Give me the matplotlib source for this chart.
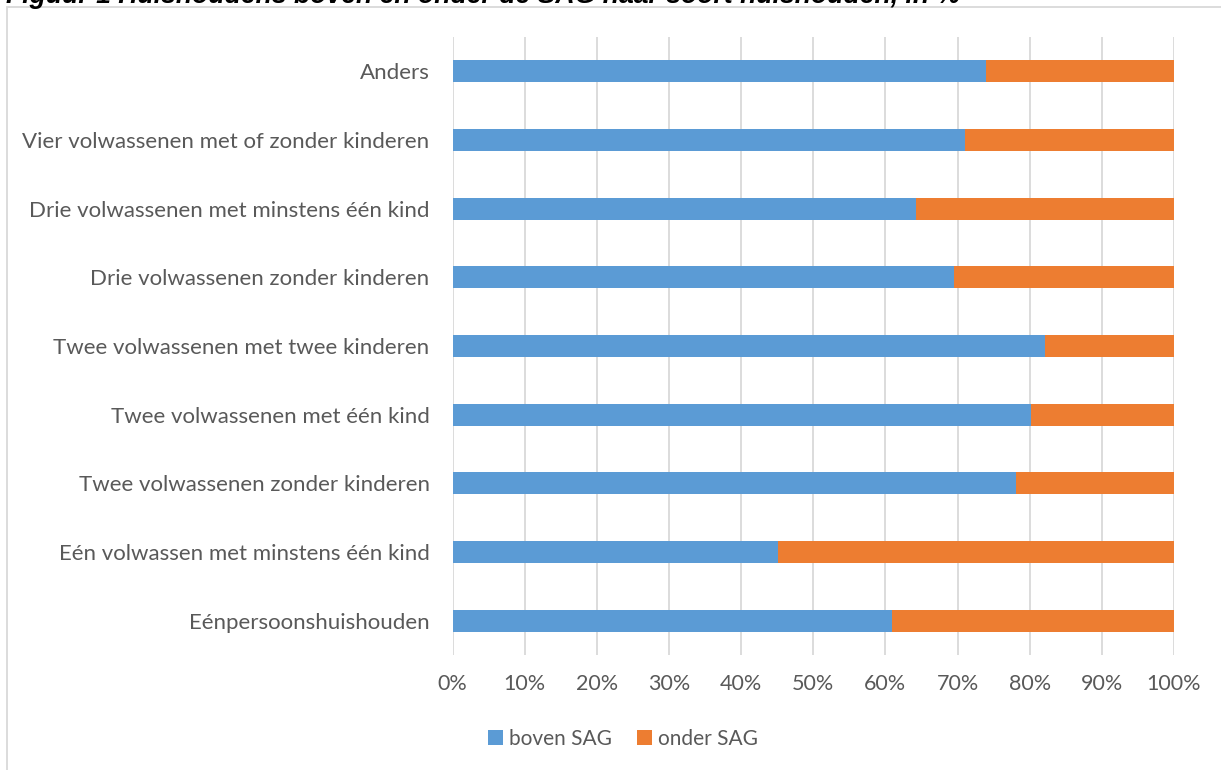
import matplotlib
matplotlib.use("Agg")
import matplotlib.pyplot as plt
from matplotlib.patches import Rectangle
from matplotlib.ticker import FixedLocator

categories = [
    "Eénpersoonshuishouden",
    "Eén volwassen met minstens één kind",
    "Twee volwassenen zonder kinderen",
    "Twee volwassenen met één kind",
    "Twee volwassenen met twee kinderen",
    "Drie volwassenen zonder kinderen",
    "Drie volwassenen met minstens één kind",
    "Vier volwassenen met of zonder kinderen",
    "Anders",
]
boven = [60.9, 45.1, 78.1, 80.2, 82.1, 69.5, 64.2, 71.0, 74.0]
onder = [100 - b for b in boven]
xticks = [0, 10, 20, 30, 40, 50, 60, 70, 80, 90, 100]
xticklabels = [f"{t}%" for t in xticks]
series_names = ["boven SAG", "onder SAG"]

BLUE = "#5B9BD5"
ORANGE = "#ED7D31"
GRID = "#D9D9D9"
TXT = "#595959"
FONT = "Lato"

W, H = 1221, 770
fig = plt.figure(figsize=(W / 100, H / 100), dpi=100)

# outer chart frame (extends beyond right/bottom edge)
fig.patches.append(Rectangle((7 / W, -0.05), 1.2, 1 - 7 / H + 0.05,
                             transform=fig.transFigure, fill=False,
                             edgecolor=GRID, linewidth=1.3))

# clipped title at the top
fig.text(6 / W, 1 - 3 / H, "Figuur 1 Huishoudens boven en onder de SAG naar soort huishouden, in %",
         ha="left", va="baseline", fontsize=19.2, fontweight="bold", fontstyle="italic",
         family="Liberation Sans", color="black")

left, right = 452.5 / W, 1174 / W
top, bottom = 37 / H, 655 / H
ax = fig.add_axes([left, 1 - bottom, right - left, bottom - top])

y = list(range(len(categories)))
h = 0.32
ax.barh(y, boven, height=h, color=BLUE, label=series_names[0], zorder=3)
ax.barh(y, onder, left=boven, height=h, color=ORANGE, label=series_names[1], zorder=3)

ax.set_xlim(0, 100)
ax.set_ylim(-0.5, len(categories) - 0.5)
ax.xaxis.set_major_locator(FixedLocator(xticks))
ax.set_xticklabels(xticklabels)
ax.set_yticks(y)
ax.set_yticklabels(categories)
ax.grid(axis="x", color=GRID, linewidth=1.3, zorder=0)
for s in ax.spines.values():
    s.set_visible(False)
ax.tick_params(axis="both", length=0, colors=TXT)
ax.tick_params(axis="x", pad=13.5, labelsize=15.5)
ax.tick_params(axis="y", pad=16.5, labelsize=16)
for lab in ax.get_xticklabels() + ax.get_yticklabels():
    lab.set_family(FONT)
    lab.set_color(TXT)

leg = fig.legend(loc="center", bbox_to_anchor=(623 / W, 1 - 739 / H), ncol=2,
                 frameon=False, handlelength=0.7, handleheight=0.7,
                 handletextpad=0.3, columnspacing=1.2,
                 prop={"family": FONT, "size": 15})
for t in leg.get_texts():
    t.set_color(TXT)

fig.savefig("out.png", dpi=100)
